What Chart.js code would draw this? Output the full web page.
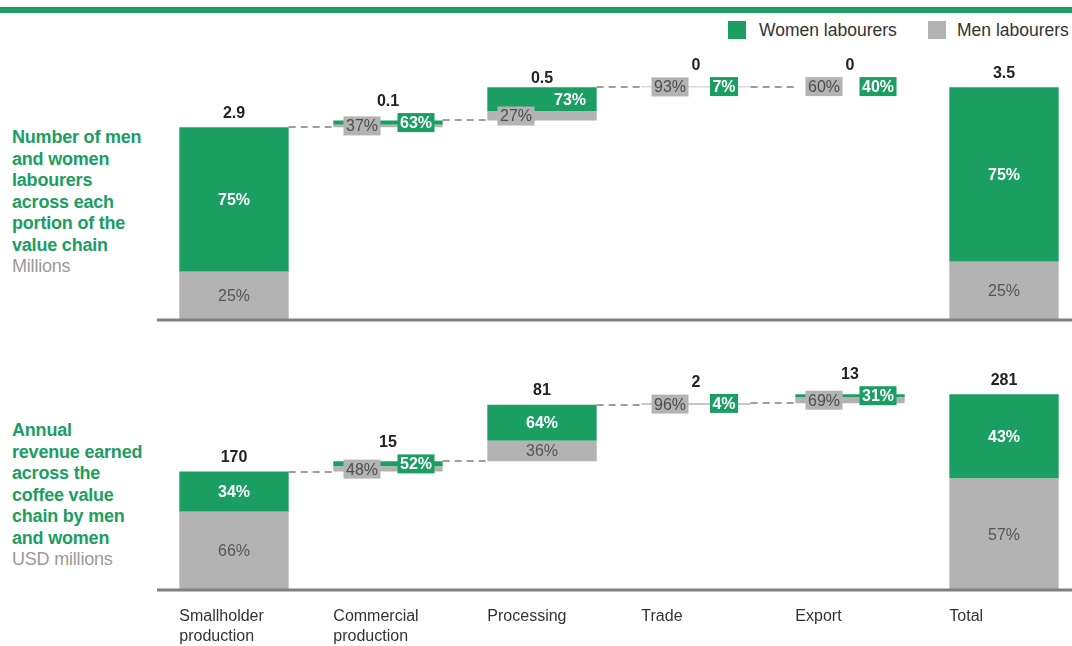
<!DOCTYPE html>
<html>
<head>
<meta charset="utf-8">
<script src="https://cdn.jsdelivr.net/npm/chart.js@4/dist/chart.umd.min.js"></script>
<style>
  body { margin: 0; width: 1072px; height: 646px; overflow: hidden; background: #fff; position: relative;
         font-family: 'Liberation Sans', Arial, sans-serif; }
  .band { position: absolute; left: 0; top: 7px; width: 1072px; height: 6px; background: #1b9e62; }
  .title { position: absolute; left: 12px; color: #1b9e62; font-weight: bold; font-size: 18px; line-height: 21.5px; letter-spacing: -0.2px; white-space: nowrap; }
  .unit { color: #9a9a9a; font-weight: normal; }
  .leg { position: absolute; top: 20px; font-size: 17.5px; color: #333; line-height: 20px; white-space: nowrap; }
  .sw { position: absolute; top: 21px; width: 18px; height: 18px; }
  .panel { position: absolute; left: 157px; width: 924px; }
</style>
</head>
<body>
<div class="band"></div>

<div class="sw" style="left:728px;background:#1b9e62"></div>
<div class="leg" style="left:759px">Women labourers</div>
<div class="sw" style="left:928px;background:#b3b3b3"></div>
<div class="leg" style="left:957px">Men labourers</div>

<div class="title" style="top:127px">Number of men<br>and women<br>labourers<br>across each<br>portion of the<br>value chain<br><span class="unit">Millions</span></div>
<div class="title" style="top:420px">Annual<br>revenue earned<br>across the<br>coffee value<br>chain by men<br>and women<br><span class="unit">USD millions</span></div>

<div class="panel" style="top:50px;height:274px"><canvas id="labourChart"></canvas></div>
<div class="panel" style="top:340px;height:306px"><canvas id="revenueChart"></canvas></div>

<script>
// data
const categories = [['Smallholder', 'production'], ['Commercial', 'production'], 'Processing', 'Trade', 'Export', 'Total'];
const labourValues = [2.9, 0.1, 0.5, 0.01, 0, 3.5];      // millions
const labourWomenPct = [75, 63, 73, 7, 40, 75];
const revenueValues = [170, 15, 81, 2, 13, 281];         // USD millions
const revenueWomenPct = [34, 52, 64, 4, 31, 43];

const GREEN = '#1b9e62';
const GREY = '#b3b3b3';
const FONT = "'Liberation Sans', Arial, sans-serif";

// floating bars for the waterfall, last one (Total) starts from zero
function waterfall(values, womenPct) {
  let run = 0;
  const men = [], women = [];
  values.forEach((v, i) => {
    const base = i === values.length - 1 ? 0 : run;
    const split = base + v * (100 - womenPct[i]) / 100;
    men.push([base, split]);
    women.push([split, base + v]);
    run = base + v;
  });
  return { men, women };
}

function box(ctx, text, x, y, fill, color, font) {
  ctx.font = font;
  const w = ctx.measureText(text).width + 5;
  ctx.fillStyle = fill;
  ctx.fillRect(x - w / 2, y - 9.5, w, 19);
  ctx.fillStyle = color;
  ctx.textAlign = 'center';
  ctx.fillText(text, x, y + 1);
}

const waterfallLabels = {
  id: 'waterfallLabels',
  afterDatasetsDraw(chart, args, opts) {
    const ctx = chart.ctx, area = chart.chartArea;
    const menBars = chart.getDatasetMeta(0).data;
    const womenBars = chart.getDatasetMeta(1).data;
    ctx.save();

    // axis line
    ctx.strokeStyle = '#808080';
    ctx.lineWidth = 3;
    ctx.beginPath();
    ctx.moveTo(area.left - 2, area.bottom);
    ctx.lineTo(area.right, area.bottom);
    ctx.stroke();

    // dashed connectors, none before Total
    ctx.setLineDash([7, 5]);
    ctx.lineWidth = 1.5;
    ctx.strokeStyle = '#7f7f7f';
    for (let i = 0; i < womenBars.length - 2; i++) {
      const a = womenBars[i], b = womenBars[i + 1];
      const yy = Math.round(a.y);
      ctx.beginPath();
      ctx.moveTo(a.x + a.width / 2, yy);
      ctx.lineTo(b.x - b.width / 2, yy);
      ctx.stroke();
    }
    ctx.setLineDash([]);

    ctx.textBaseline = 'middle';
    menBars.forEach((m, i) => {
      const w = womenBars[i];
      const wPct = opts.womenPct[i], mPct = 100 - wPct;
      const menH = m.base - m.y, wH = w.base - w.y;
      let labelY;
      if (Math.min(menH, wH) >= 16) {
        ctx.textAlign = 'center';
        ctx.font = 'bold 16px ' + FONT;
        ctx.fillStyle = '#fff';
        ctx.fillText(wPct + '%', w.x, (w.y + w.base) / 2 + 1);
        ctx.font = '16px ' + FONT;
        ctx.fillStyle = '#555';
        ctx.fillText(mPct + '%', m.x, (m.y + m.base) / 2 + 1);
        labelY = w.y - 14;
      } else {
        const my = (m.y + m.base) / 2, wy = (w.y + w.base) / 2;
        box(ctx, mPct + '%', m.x - 26, my, GREY, '#4d4d4d', '16px ' + FONT);
        box(ctx, wPct + '%', w.x + 28, wy, GREEN, '#fff', 'bold 16px ' + FONT);
        labelY = Math.min(my, wy) - 21;
      }
      ctx.textAlign = 'center';
      ctx.font = 'bold 16px ' + FONT;
      ctx.fillStyle = '#222';
      ctx.fillText(opts.fmt(opts.values[i]), m.x, labelY);
    });

    // category labels under the lower panel
    if (opts.ticks) {
      ctx.font = '16px ' + FONT;
      ctx.fillStyle = '#333';
      ctx.textAlign = 'left';
      menBars.forEach((m, i) => {
        const lines = [].concat(categories[i]);
        lines.forEach((t, k) => ctx.fillText(t, m.x - m.width / 2, area.bottom + 27 + k * 20));
      });
    }
    ctx.restore();
  }
};

function makeChart(id, values, womenPct, yMax, padBottom, fmt, ticks) {
  const wf = waterfall(values, womenPct);
  return new Chart(document.getElementById(id), {
    type: 'bar',
    data: {
      labels: categories,
      datasets: [
        { label: 'Men labourers', data: wf.men, backgroundColor: GREY, grouped: false },
        { label: 'Women labourers', data: wf.women, backgroundColor: GREEN, grouped: false }
      ]
    },
    options: {
      responsive: true,
      maintainAspectRatio: false,
      animation: false,
      categoryPercentage: 1,
      barPercentage: 0.71,
      borderWidth: 0,
      layout: { padding: { left: 0, right: 0, top: 0, bottom: padBottom } },
      scales: {
        x: { display: false },
        y: { display: false, min: 0, max: yMax }
      },
      plugins: {
        legend: { display: false },
        tooltip: { enabled: false },
        waterfallLabels: { values: values, womenPct: womenPct, fmt: fmt, ticks: ticks }
      }
    },
    plugins: [waterfallLabels]
  });
}

makeChart('labourChart', labourValues, labourWomenPct, 4.06, 4, v => String(Math.round(v * 10) / 10), false);
makeChart('revenueChart', revenueValues, revenueWomenPct, 359, 56, v => String(v), true);
</script>
</body>
</html>
